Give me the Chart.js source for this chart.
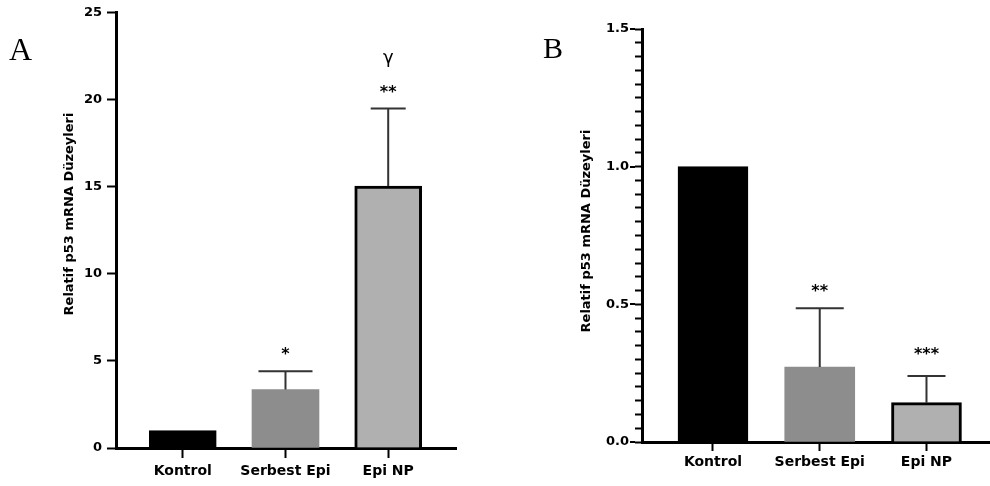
<!DOCTYPE html>
<html>
<head>
<meta charset="utf-8">
<script src="https://cdn.jsdelivr.net/npm/chart.js@4"></script>
<style>
body{margin:0;background:#fff;width:990px;height:486px;overflow:hidden;position:relative}
canvas{position:absolute;top:0}
</style>
</head>
<body>
<canvas id="chartA" width="480" height="486" style="left:0"></canvas>
<canvas id="chartB" width="490" height="486" style="left:500px"></canvas>
<script>
// data
const categories = ['Kontrol','Serbest Epi','Epi NP']
const yTitle = 'Relatif p53 mRNA Düzeyleri'

const meansA = [1.0, 3.36, 15.05]
const errA = [0, 1.05, 4.45]
const starsA = ['', '*', '**']
const marksA = ['', '', 'γ']
const ticksA = [0,5,10,15,20,25]

const meansB = [1.0, 0.272, 0.143]
const errB = [0, 0.214, 0.097]
const starsB = ['', '**', '***']
const ticksB = [0,0.5,1.0,1.5]

const barColors = ['#000000','#8d8d8d','#b0b0b0']

const FONT = '"DejaVu Sans", sans-serif'

// error bars, stars, titles
const extras = {
id:'extras',
afterDatasetsDraw(chart,args,o){
const ctx = chart.ctx
const y = chart.scales.y
const meta = chart.getDatasetMeta(0)
ctx.save()
meta.data.forEach((bar,i)=>{
let e = o.err[i]
if(!e) return
let top = y.getPixelForValue(o.means[i]+e)
ctx.strokeStyle = '#333'
ctx.lineWidth = 2
ctx.beginPath()
ctx.moveTo(bar.x,bar.y)
ctx.lineTo(bar.x,top)
ctx.moveTo(bar.x-o.caps[i]/2,top)
ctx.lineTo(bar.x+o.caps[i]/2,top)
ctx.stroke()
ctx.fillStyle = '#000'
ctx.textAlign = 'center'
ctx.textBaseline = 'alphabetic'
ctx.font = 'bold 16px '+FONT
ctx.fillText(o.stars[i],bar.x,top-o.gaps[i])
if(o.marks && o.marks[i]){
ctx.font = '18px '+FONT
ctx.fillText(o.marks[i],bar.x,top-46)
}
})

// longer marks on the labelled ticks
if(o.majorExt){
ctx.strokeStyle = '#000'
ctx.lineWidth = 2
o.majors.forEach(v=>{
let py = Math.round(y.getPixelForValue(v))
ctx.beginPath()
ctx.moveTo(chart.chartArea.left-7,py)
ctx.lineTo(chart.chartArea.left-7-o.majorExt,py)
ctx.stroke()
})
}

// y title
ctx.fillStyle = '#000'
ctx.save()
ctx.translate(o.titleX,o.titleY)
ctx.rotate(-Math.PI/2)
ctx.font = 'bold 13px '+FONT
ctx.textAlign = 'center'
ctx.textBaseline = 'middle'
ctx.fillText(yTitle,0,0)
ctx.restore()

// panel letter
ctx.font = o.letterSize+'px "Liberation Serif", serif'
ctx.textAlign = 'left'
ctx.textBaseline = 'alphabetic'
ctx.fillText(o.letter,o.letterX,o.letterY)
ctx.restore()
}
}

function makeChart(id,means,cfg){

const ctx = document.getElementById(id)

return new Chart(ctx,{
type:'bar',
data:{
datasets:[{
data:means.map((v,i)=>({x:i+1,y:v})),
backgroundColor:barColors,
borderColor:['#000','#8d8d8d','#000'],
borderWidth:[2,0,3],
borderSkipped:'bottom',
barThickness:cfg.barW
}]
},
options:{
responsive:false,
animation:false,
events:[],
layout:{padding:{left:0,right:cfg.padRight,top:cfg.padTop,bottom:0}},
plugins:{
legend:{display:false},
tooltip:{enabled:false},
extras:cfg.extras
},
scales:{
x:{
type:'linear',
offset:false,
min:cfg.xMin,
max:cfg.xMax,
afterBuildTicks:s=>{ s.ticks = categories.map((c,i)=>({value:i+1})) },
afterFit:s=>{ s.height = cfg.xH },
ticks:{
autoSkip:false,
maxRotation:0,
padding:cfg.xPad,
color:'#000',
font:{family:FONT,size:14,weight:'bold'},
callback:v=>categories[v-1]
},
grid:{display:true,offset:false,drawOnChartArea:false,tickLength:cfg.xTick,tickWidth:2,tickColor:'#000'},
border:{display:true,color:'#000',width:3}
},
y:{
min:0,
max:cfg.yMax,
afterFit:s=>{ s.width = cfg.yW },
afterBuildTicks:cfg.yTicks,
ticks:{
autoSkip:false,
maxTicksLimit:100,
padding:cfg.yPad,
color:'#000',
font:{family:FONT,size:13,weight:'bold'},
callback:cfg.yLabel
},
grid:{display:true,drawOnChartArea:false,tickLength:cfg.yTick,tickWidth:2,tickColor:'#000'},
border:{display:true,color:'#000',width:3}
}
}
},
plugins:[extras]
})

}

makeChart('chartA',meansA,{
barW:67, padRight:24, padTop:12,
xMin:0.35, xMax:3.66, xH:38, xPad:5, xTick:10,
yMax:25, yW:116, yPad:5, yTick:9,
yTicks:s=>{ s.ticks = ticksA.map(v=>({value:v})) },
yLabel:v=>String(v),
extras:{
means:meansA, err:errA, stars:starsA, marks:marksA,
caps:[0,54,35], gaps:[10,12,12],
titleX:70, titleY:214,
letter:'A', letterSize:32, letterX:9, letterY:60
}
})

// B has minor ticks every 0.05
const minorB = []
for(let k=0;k<=30;k++) minorB.push(k/20)

makeChart('chartB',meansB,{
barW:70, padRight:0, padTop:29,
xMin:0.335, xMax:3.595, xH:44, xPad:3, xTick:9,
yMax:1.5, yW:142, yPad:6, yTick:7,
yTicks:s=>{ s.ticks = minorB.map(v=>({value:v})) },
yLabel:v=>ticksB.some(t=>Math.abs(t-v)<1e-6) ? v.toFixed(1) : '',
extras:{
means:meansB, err:errB, stars:starsB,
caps:[0,48,38], gaps:[12,12,17],
majorExt:5, majors:ticksB,
titleX:87, titleY:231,
letter:'B', letterSize:30, letterX:43, letterY:58
}
})
</script>
</body>
</html>
